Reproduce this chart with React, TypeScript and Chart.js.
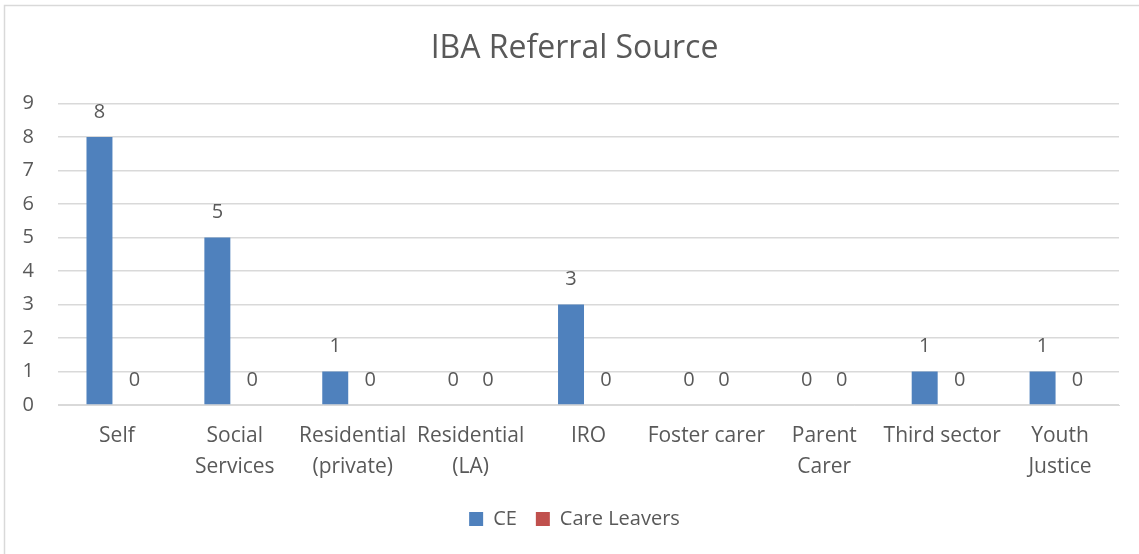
import React, { useEffect, useRef } from "react";
import { Chart, registerables } from "chart.js";

Chart.register(...registerables);

const categories: (string | string[])[] = [
  "Self",
  ["Social", "Services"],
  ["Residential", "(private)"],
  ["Residential", "(LA)"],
  "IRO",
  "Foster carer",
  ["Parent", "Carer"],
  "Third sector",
  ["Youth", "Justice"],
];
const ceValues = [8, 5, 1, 0, 3, 0, 0, 1, 1];
const careLeaversValues = [0, 0, 0, 0, 0, 0, 0, 0, 0];
const yTicks = [0, 1, 2, 3, 4, 5, 6, 7, 8, 9];

const FONT = "'Open Sans', 'Liberation Sans', sans-serif";
const TEXT = "#595959";

const valueLabels = {
  id: "valueLabels",
  afterDatasetsDraw(chart: any) {
    const ctx = chart.ctx;
    ctx.save();
    ctx.font = `20px ${FONT}`;
    ctx.fillStyle = TEXT;
    ctx.textAlign = "center";
    ctx.textBaseline = "middle";
    chart.data.datasets.forEach((ds: any, i: number) => {
      const meta = chart.getDatasetMeta(i);
      meta.data.forEach((bar: any, j: number) => {
        ctx.fillText(String(ds.data[j]), bar.x, bar.y - 25);
      });
    });
    ctx.restore();
  },
};

const frame = {
  id: "frame",
  afterLayout(chart: any) {
    const y = chart.scales.y;
    if (y) {
      y.left = 0;
      y.width = y.right - y.left;
    }
  },
  beforeDraw(chart: any) {
    const ctx = chart.ctx;
    ctx.save();
    ctx.fillStyle = "#ffffff";
    ctx.fillRect(0, 0, chart.width, chart.height);
    ctx.strokeStyle = "#d9d9d9";
    ctx.lineWidth = 1.5;
    ctx.strokeRect(4.5, 5.5, chart.width + 10, chart.height + 10);
    ctx.restore();
  },
};

export default function App() {
  const ref = useRef<HTMLCanvasElement>(null);
  useEffect(() => {
    if (!ref.current) return;
    const chart = new Chart(ref.current, {
      type: "bar",
      data: {
        labels: categories,
        datasets: [
          { label: "CE", data: ceValues, backgroundColor: "#4f81bd" },
          { label: "Care Leavers", data: careLeaversValues, backgroundColor: "#c0504d" },
        ],
      },
      plugins: [frame, valueLabels],
      options: {
        animation: false,
        responsive: false,
        maintainAspectRatio: false,
        layout: { padding: { left: 30, right: 20, top: 12, bottom: 15 } },
        categoryPercentage: 0.593,
        barPercentage: 0.743,
        plugins: {
          title: {
            display: true,
            text: "IBA Referral Source",
            color: TEXT,
            font: { family: FONT, size: 32, weight: "normal" },
            padding: { top: 18, bottom: 35 },
          },
          legend: {
            position: "bottom",
            labels: {
              color: TEXT,
              font: { family: FONT, size: 20 },
              boxWidth: 14,
              boxHeight: 14,
              padding: 19,
            },
          },
          tooltip: { enabled: false },
        },
        scales: {
          x: {
            grid: { display: false },
            border: { color: "#d9d9d9" },
            ticks: {
              color: TEXT,
              font: { family: FONT, size: 21, lineHeight: 1.45 },
              maxRotation: 0,
              autoSkip: false,
              padding: 8,
            },
          },
          y: {
            min: 0,
            max: 9,
            afterBuildTicks: (axis: any) => {
              axis.ticks = yTicks.map((v) => ({ value: v }));
            },
            afterFit: (axis: any) => {
              axis.width = 28;
            },
            grid: { color: "#d9d9d9", lineWidth: 1.5, drawTicks: false },
            border: { display: false },
            ticks: {
              color: TEXT,
              font: { family: FONT, size: 20 },
              padding: 24,
            },
          },
        },
      },
    });
    return () => chart.destroy();
  }, []);
  return (
    <div style={{ position: "fixed", left: 0, top: 0, width: 1139, height: 554 }}>
      <canvas ref={ref} width={1139} height={554} />
    </div>
  );
}
